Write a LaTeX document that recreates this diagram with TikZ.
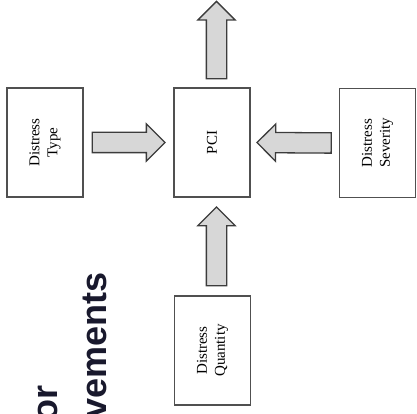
\documentclass[tikz,border=0pt]{standalone}
\usepackage{fontspec}
\setmainfont{Liberation Serif}
\newfontfamily\headfont{Liberation Sans}
\usetikzlibrary{shapes.arrows,calc}

\definecolor{boxline}{RGB}{80,80,80}
\definecolor{arrowline}{RGB}{60,60,60}
\definecolor{arrowfill}{RGB}{215,215,215}
\definecolor{headtext}{RGB}{25,25,45}

% block arrow from #2 to #3, named #1
\newcommand{\blockarrow}[3]{%
  \path let \p1=(#2), \p2=(#3), \n1={veclen(\x2-\x1,\y2-\y1)}, \n2={atan2(\y2-\y1,\x2-\x1)} in
    node[flow, minimum height=\n1, rotate=\n2, anchor=tail] (#1) at (\p1) {};}

\begin{document}
\begin{tikzpicture}[x=1pt,y=-1pt,
  box/.style={draw=boxline, line width=1.3pt, minimum width=76pt, minimum height=109pt, inner sep=0pt},
  boxtext/.style={rotate=90, align=center, inner sep=0pt, font=\fontsize{15}{18}\selectfont},
  flow/.style={single arrow, draw=arrowline, fill=arrowfill, line width=1.3pt, inner xsep=0pt, inner ysep=9.5pt, single arrow head extend=8.5pt, single arrow tip angle=90},
  headline/.style={rotate=90, anchor=base east, inner sep=0pt, text=headtext, font=\headfont\bfseries\fontsize{36}{40}\selectfont}]
	\useasboundingbox (0,0) rectangle (417,414);
	% boxes
	\node[box, label={[boxtext]center:{Distress\\Type}}] (type) at (45,142.5) {};
	\node[box, label={[boxtext]center:{PCI}}] (pci) at (212,142.5) {};
	\node[box, label={[boxtext]center:{Distress\\Severity}}] (severity) at (377.5,143) {};
	\node[box, label={[boxtext]center:{Distress\\Quantity}}] (quantity) at (212.5,350.5) {};
	\coordinate (result) at (216.5,2);
	% arrows
	\blockarrow{a1}{[xshift=8pt]type.east}{[xshift=-9pt]pci.west}
	\blockarrow{a2}{[xshift=-7pt]severity.west}{[xshift=7pt]pci.east}
	\blockarrow{a3}{[xshift=4pt,yshift=9pt]quantity.north}{[xshift=4.5pt,yshift=-10pt]pci.south}
	\blockarrow{a4}{[xshift=4.5pt,yshift=8pt]pci.north}{result}
	% cut-off title
	\node[headline] (titlea) at (57,385) {or};
	\node[headline] (titleb) at (106,272) {vements};
\end{tikzpicture}
\end{document}
